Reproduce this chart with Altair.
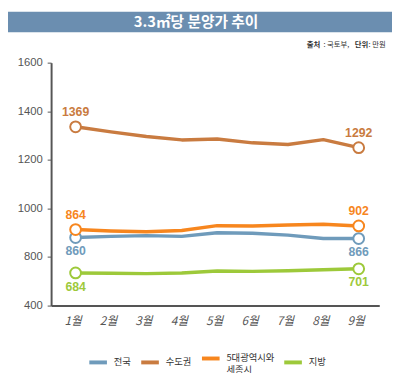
import altair as alt
import pandas as pd

# ---- data ----
months = [1, 2, 3, 4, 5, 6, 7, 8, 9]
series_names = ["전국", "수도권", "5대광역시와 세종시", "지방"]
colors = ["#6f9bbb", "#c97b40", "#f7861e", "#9dc93a"]
national = [880, 885, 888, 885, 900, 898, 890, 876, 876]
capital = [1336, 1315, 1296, 1282, 1286, 1270, 1263, 1283, 1250]
metro = [913, 907, 904, 909, 929, 928, 932, 935, 928]
local = [669, 666, 663, 669, 685, 682, 687, 695, 703]
start_labels = ["860", "1369", "864", "684"]
end_labels = ["866", "1292", "902", "701"]
label_above = [False, True, True, False]
y_ticks = [400, 800, 1000, 1200, 1400, 1600]
title_text = "3.3㎡당 분양가 추이"
source_parts = ["출처", ": 국토부,", "단위", ": 만원"]

W, H = 335, 248

rows = []
for name, vals in zip(series_names, [national, capital, metro, local]):
    for m, v in zip(months, vals):
        rows.append({"month": m, "series": name, "value": v})
df = pd.DataFrame(rows)

lab_rows = []
for name, vals, s, e, above in zip(series_names, [national, capital, metro, local],
                                   start_labels, end_labels, label_above):
    lab_rows.append({"month": months[0], "series": name, "value": vals[0], "text": s, "above": above})
    lab_rows.append({"month": months[-1], "series": name, "value": vals[-1], "text": e, "above": above})
ldf = pd.DataFrame(lab_rows)

x_ticks = []
for m in months:
    x_ticks.append(m)
    if m < months[-1]:
        x_ticks.append(m + 0.45)

xs = alt.Scale(domain=[0.308, 9.581], nice=False, zero=False)
ys = alt.Scale(domain=[400, 800, 1600], range=[H, H - 49.6, 0], nice=False, zero=False)
cs = alt.Scale(domain=series_names, range=colors)

x_enc = alt.X("month:Q", scale=xs, axis=alt.Axis(
    values=x_ticks, title=None, grid=False,
    labelExpr="datum.value % 1 === 0 ? datum.value + '월' : ''",
    tickOpacity={"condition": {"test": "datum.value % 1 === 0", "value": 0}, "value": 1},
    tickSize=7, tickColor="#555", tickWidth=1.2,
    domainColor="#555", domainWidth=2,
    labelFont="Noto Sans CJK KR", labelFontSize=12, labelFontStyle="italic",
    labelColor="#555", labelPadding=3, labelOffset=-3))
y_enc = alt.Y("value:Q", scale=ys, axis=alt.Axis(
    values=y_ticks, title=None, grid=False, format="d",
    tickSize=4, tickColor="#555", domainColor="#555", domainWidth=2,
    labelFont="Liberation Sans", labelFontSize=11.5, labelColor="#555", labelPadding=5))

base = alt.Chart(df)

lines = base.mark_line(strokeWidth=3.5, strokeCap="round", strokeJoin="round").encode(
    x=x_enc, y=y_enc,
    color=alt.Color("series:N", scale=cs, sort=series_names, legend=alt.Legend(
        title=None, orient="none", legendX=37, legendY=291, direction="horizontal",
        symbolType="stroke", symbolSize=324, symbolStrokeWidth=4,
        labelFont="Noto Sans CJK KR", labelFontSize=9.5, labelColor="#333",
        labelExpr="datum.label == '5대광역시와 세종시' ? ['5대광역시와', '세종시'] : datum.label",
        columnPadding=2, labelOffset=5)),
)

ends = alt.Chart(ldf).mark_point(size=121, filled=True, fill="white", strokeWidth=2, opacity=1).encode(
    x="month:Q", y="value:Q",
    stroke=alt.Stroke("series:N", scale=cs, legend=None),
)

lab_above = alt.Chart(ldf).transform_filter("datum.above").mark_text(
    dy=-15, font="Liberation Sans", fontSize=12.5, fontWeight="bold").encode(
    x="month:Q", y="value:Q", text="text:N",
    color=alt.Color("series:N", scale=cs, legend=None))
lab_below = alt.Chart(ldf).transform_filter("!datum.above").mark_text(
    dy=14, font="Liberation Sans", fontSize=12.5, fontWeight="bold").encode(
    x="month:Q", y="value:Q", text="text:N",
    color=alt.Color("series:N", scale=cs, legend=None))

tdf = pd.DataFrame({"t": [title_text]})
banner = alt.Chart(tdf).mark_rect(color="#6b8eb0").encode(
    x=alt.value(-44), x2=alt.value(348), y=alt.value(-52), y2=alt.value(-31))
title = alt.Chart(tdf).mark_text(color="white", font="Noto Sans CJK KR", fontSize=15,
                                 fontWeight="bold", baseline="middle").encode(
    x=alt.value(148), y=alt.value(-41.5), text="t:N")

src_style = [("bold", 261), ("normal", 278), ("bold", 310), ("normal", 324)]
src_layers = []
for txt, (wt, xp) in zip(source_parts, src_style):
    src_layers.append(alt.Chart(pd.DataFrame({"t": [txt]})).mark_text(
        color="#333", font="Noto Sans CJK KR", fontSize=7.5, fontWeight=wt,
        align="left", baseline="middle").encode(x=alt.value(xp), y=alt.value(-18), text="t:N"))

chart = alt.layer(banner, title, *src_layers, lines, ends, lab_above, lab_below).properties(
    width=W, height=H,
    autosize=alt.AutoSizeParams(type="none"),
    padding={"left": 44, "top": 52, "right": 13, "bottom": 65},
).configure_view(stroke=None)

chart.save("out.html", embed_options={"renderer": "svg", "actions": False})
